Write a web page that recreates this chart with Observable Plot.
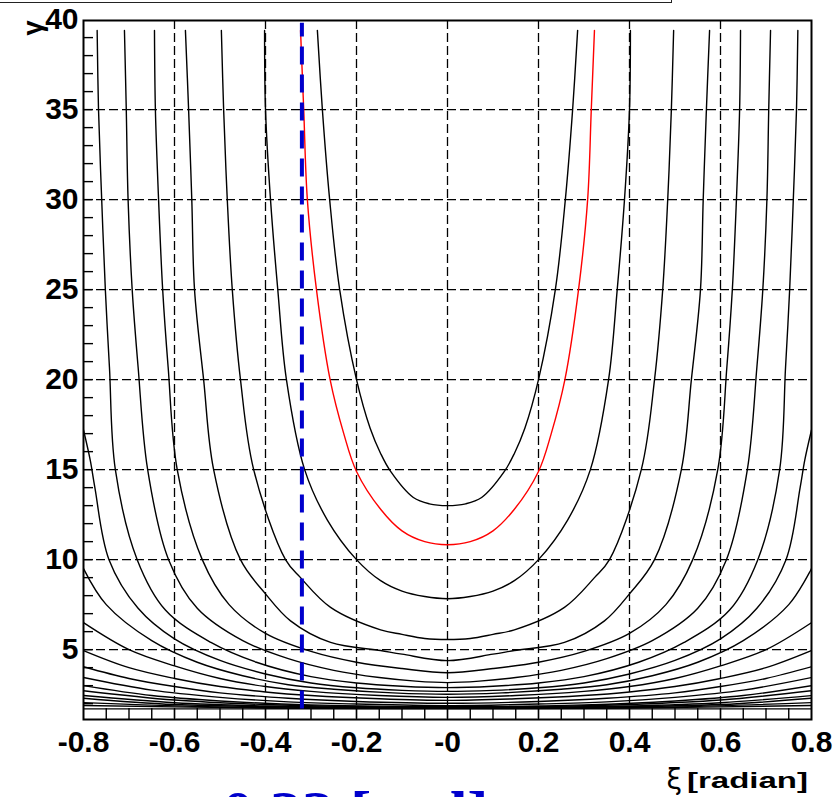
<!DOCTYPE html>
<html><head><meta charset="utf-8">
<script src="https://cdn.jsdelivr.net/npm/d3@7"></script>
<script src="https://cdn.jsdelivr.net/npm/@observablehq/plot@0.6"></script>
<style>
html,body{margin:0;padding:0;background:#fff;}
#wrap{position:relative;width:837px;height:797px;overflow:hidden;font-family:"Liberation Sans",Arial,sans-serif;}
#box{position:absolute;left:-4px;top:-20px;width:674px;height:21px;border:1.5px solid #222;}
#note{position:absolute;left:222px;top:781.8px;font-family:"Liberation Serif","Times New Roman",serif;font-size:64px;line-height:64px;font-weight:bold;color:#0000cc;white-space:nowrap;}
#chart{position:absolute;left:0;top:0;}
#titles{position:absolute;left:0;top:0;}
</style></head><body>
<div id="wrap"><div id="chart"></div><div id="box"></div>
<svg id="titles" width="837" height="797">
  <text id="xsym" x="682" y="789" text-anchor="end" font-family="'DejaVu Sans', 'Liberation Sans', sans-serif" font-size="28">ξ</text>
  <text id="xunit" transform="translate(808,788) scale(1.5,1)" text-anchor="end" font-family="'Liberation Sans', Arial, sans-serif" font-size="22" font-weight="bold">[radian]</text>
</svg>
<div id="note">0.33 [rad]</div></div>
<script>
// contour levels (theta, rad); 0.33 is the highlighted (red) one
const curveLevels = [0.3, 0.33, 0.4, 0.5, 0.6, 0.7, 0.8, 0.9, 1.0, 1.1, 1.2, 1.3, 1.4, 1.5, 1.6, 1.7, 1.8, 1.9, 2.0, 2.1, 9];
// left half of each contour (xi <= 0); the right half is its mirror image
const curveXi = [
  [-0.286,-0.275,-0.259,-0.237,-0.2,-0.17,-0.147,-0.125,-0.075,-0.04,0],
  [-0.323,-0.316,-0.308,-0.288,-0.258,-0.228,-0.2,-0.147,-0.1,-0.05,0],
  [-0.402,-0.4,-0.389,-0.373,-0.354,-0.314,-0.264,-0.2,-0.147,-0.1,-0.05,0],
  [-0.497,-0.492,-0.484,-0.473,-0.455,-0.426,-0.356,-0.323,-0.257,-0.147,-0.1,-0.05,0],
  [-0.576,-0.569,-0.562,-0.556,-0.536,-0.514,-0.455,-0.4,-0.345,-0.257,-0.147,-0.1,0],
  [-0.644,-0.642,-0.635,-0.626,-0.614,-0.594,-0.539,-0.48,-0.4,-0.3,-0.2,-0.1,0],
  [-0.71,-0.706,-0.702,-0.693,-0.68,-0.659,-0.613,-0.55,-0.45,-0.35,-0.25,-0.15,-0.07,0],
  [-0.77,-0.767,-0.76,-0.752,-0.743,-0.73,-0.682,-0.62,-0.52,-0.42,-0.3,-0.2,-0.1,0],
  [-0.8,-0.785,-0.775,-0.744,-0.68,-0.6,-0.5,-0.4,-0.3,-0.2,-0.1,0],
  [-0.8,-0.75,-0.65,-0.55,-0.45,-0.35,-0.25,-0.12,0],
  [-0.8,-0.7,-0.6,-0.5,-0.4,-0.3,-0.15,0],
  [-0.8,-0.7,-0.6,-0.5,-0.4,-0.3,-0.15,0],
  [-0.8,-0.7,-0.6,-0.5,-0.35,-0.2,0],
  [-0.8,-0.65,-0.5,-0.35,-0.2,0],
  [-0.8,-0.65,-0.5,-0.3,0],
  [-0.8,-0.6,-0.4,-0.2,0],
  [-0.8,-0.6,-0.4,0],
  [-0.8,-0.6,-0.3,0],
  [-0.8,-0.5,0],
  [-0.8,-0.4,0],
  [-0.8,-0.4,0]
];
const curveGamma = [
  [39.4,35,30,25,20,17.3,15.9,14.9,13.45,13.1,13.0],
  [39.4,35,30,25,20,17,14.9,12.8,11.6,11.0,10.83],
  [39.4,35,30,25,20,15,12.2,10,8.83,8.25,7.95,7.83],
  [39.4,35,30,25,20,15,10,9.0,7.35,6.1,5.85,5.62,5.56],
  [39.4,35,30,25,20,15,10,8.1,6.6,5.4,4.95,4.75,4.39],
  [39.4,35,30,25,20.7,15,10,7.5,5.9,4.9,4.3,3.95,3.72],
  [39.4,35,30,25,20.7,15,10,7.3,5.5,4.5,3.85,3.45,3.25,3.17],
  [39.4,35,30,25,20.7,15,10,7.2,5.4,4.3,3.5,3.15,2.97,2.89],
  [17.2,15.5,14,10,7.3,5.6,4.4,3.65,3.15,2.88,2.74,2.68],
  [9.5,7.5,5.5,4.3,3.55,3.05,2.8,2.6,2.52],
  [6.5,5.0,4.1,3.4,2.95,2.68,2.45,2.35],
  [4.95,4.0,3.4,2.95,2.65,2.45,2.27,2.18],
  [4.05,3.4,2.95,2.6,2.3,2.12,2.02],
  [3.45,2.75,2.35,2.1,1.98,1.89],
  [3.0,2.45,2.15,1.93,1.83],
  [2.72,2.2,1.95,1.84,1.79],
  [2.45,2.05,1.87,1.76],
  [2.3,1.95,1.8,1.75],
  [2.06,1.82,1.74],
  [1.9,1.76,1.73],
  [1.71,1.71,1.71]
];
const highlightLevel = 0.33;
const cutXi = -0.32;
const cutGamma = [1.7, 39.8];
const xTicks = [-0.8,-0.6,-0.4,-0.2,0,0.2,0.4,0.6,0.8];
const xTickLabels = ["-0.8","-0.6","-0.4","-0.2","-0","0.2","0.4","0.6","0.8"];
const yTicks = [5,10,15,20,25,30,35,40];
const yTickLabels = ["5","10","15","20","25","30","35","40"];
const xGridTicks = [-0.6,-0.4,-0.2,0,0.2,0.4,0.6];
const yGridTicks = [5,10,15,20,25,30,35];
const xMinorTicks = d3.range(-15,16).map(i => i/20);
const yMinorTicks = d3.range(2,40);
const yTitle = "γ";

// build full symmetric contour point lists
const points = [];
curveLevels.forEach((lev, i) => {
  const left = curveXi[i].map((x, j) => ({level: lev, xi: x, gamma: curveGamma[i][j]}));
  const right = left.slice(0, -1).reverse().map(p => ({level: lev, xi: -p.xi, gamma: p.gamma}));
  left.concat(right).forEach(p => points.push(p));
});
const blackPts = points.filter(p => p.level !== highlightLevel);
const redPts = points.filter(p => p.level === highlightLevel);

const W = 837, H = 797, mL = 83, mR = 26, mT = 20, mB = 78;
const frameW = W - mL - mR, frameH = H - mT - mB;
const dash = "9,4";
const chart = Plot.plot({
  width: W, height: H,
  marginLeft: mL, marginRight: mR, marginTop: mT, marginBottom: mB,
  x: {domain: [-0.8, 0.8]},
  y: {domain: [1.12, 39.95]},
  style: {fontFamily: "'Liberation Sans', Arial, sans-serif", background: "transparent", color: "#000"},
  marks: [
    Plot.gridX(xGridTicks, {stroke: "#000", strokeOpacity: 1, strokeWidth: 1.3, strokeDasharray: dash}),
    Plot.gridY(yGridTicks, {stroke: "#000", strokeOpacity: 1, strokeWidth: 1.3, strokeDasharray: dash}),
    Plot.tickX(xMinorTicks, {x: d => d, insetTop: frameH - 11, stroke: "#000", strokeWidth: 1.4}),
    Plot.tickY(yMinorTicks, {y: d => d, insetRight: frameW - 10, stroke: "#000", strokeWidth: 1.4}),
    Plot.line(blackPts, {x: "xi", y: "gamma", z: "level", stroke: "#000", strokeWidth: 1.4, curve: "catmull-rom", clip: true}),
    Plot.line(redPts, {x: "xi", y: "gamma", z: "level", stroke: "#ff0000", strokeWidth: 1.4, curve: "catmull-rom", clip: true}),
    Plot.ruleX([cutXi], {y1: cutGamma[0], y2: cutGamma[1], stroke: "#0000cc", strokeWidth: 4, strokeDasharray: "18,10"}),
    Plot.frame({stroke: "#000", strokeWidth: 2}),
    Plot.axisX(xTicks, {tickSize: 0, tickPadding: 11, tickFormat: (d, i) => xTickLabels[i], fontSize: 30, fontWeight: "bold", label: null}),
    Plot.axisY(yTicks, {tickSize: 0, tickPadding: 5, tickFormat: (d, i) => yTickLabels[i], fontSize: 30, fontWeight: "bold", label: null}),
    Plot.text([yTitle], {text: d => d, frameAnchor: "top-left", dx: -61, dy: 0, rotate: -90, textAnchor: "end", fontSize: 27, fontWeight: "bold"})
  ]
});
document.getElementById("chart").appendChild(chart);
</script>
</body></html>
